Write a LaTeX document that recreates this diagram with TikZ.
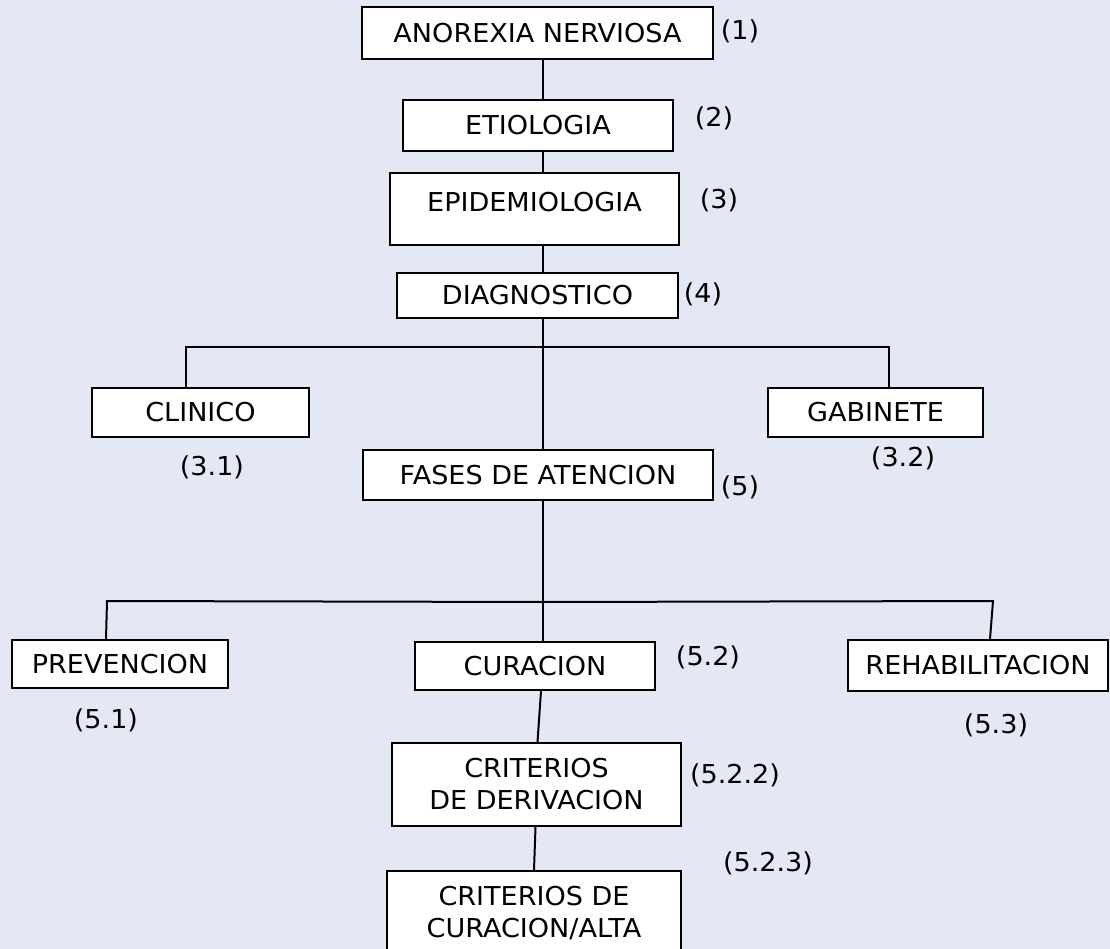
\documentclass[tikz,border=0pt]{standalone}
\usepackage{fontspec}
\setmainfont{DejaVu Sans}[FakeStretch=1.04]
\usetikzlibrary{calc}
\definecolor{bgpanel}{RGB}{227,232,244}
\tikzset{
  box/.style={draw=black, fill=white, line width=2pt, inner sep=0pt, align=center,
              font=\fontsize{26}{32}\selectfont},
  num/.style={inner sep=0pt, font=\fontsize{26}{30}\selectfont},
  link/.style={draw=black, line width=2pt}
}
\begin{document}
\begin{tikzpicture}[x=1pt,y=-1pt]
\useasboundingbox (0,0) rectangle (1110,949);
\fill[bgpanel] (0,0) rectangle (1110,949);
\clip (0,0) rectangle (1110,949);

% main column
\node[box, minimum width=351pt, minimum height=52pt] (an)  at (537.5,33)  {ANOREXIA NERVIOSA};
\node[box, minimum width=270pt, minimum height=51pt] (eti) at (538,125.5) {ETIOLOGIA};
\node[box, minimum width=289pt, minimum height=72pt, text depth=14pt] (epi) at (534.5,209) {EPIDEMIOLOGIA};
\node[box, minimum width=281pt, minimum height=45pt] (dia) at (537.5,295.5) {DIAGNOSTICO};
\node[box, minimum width=217pt, minimum height=49pt] (cli) at (200.5,412.5) {CLINICO};
\node[box, minimum width=215pt, minimum height=49pt] (gab) at (875.5,412.5) {GABINETE};
\node[box, minimum width=350pt, minimum height=50pt] (fas) at (538,475) {FASES DE ATENCION};
\node[box, minimum width=216pt, minimum height=48pt] (pre) at (120,664) {PREVENCION};
\node[box, minimum width=240pt, minimum height=48pt] (cur) at (535,666) {CURACION};
\node[box, minimum width=260pt, minimum height=51pt] (reh) at (978,665.5) {REHABILITACION};
\node[box, minimum width=289pt, minimum height=83pt] (crd) at (536.5,784.5) {CRITERIOS\\DE DERIVACION};
\node[box, minimum width=294pt, minimum height=84pt, anchor=north] (cra) at (534,870) {CRITERIOS DE\\CURACION/ALTA};

% numbering
\node[num] (n1)   at (740,31)  {(1)};
\node[num] (n2)   at (714,118) {(2)};
\node[num] (n3)   at (719,200) {(3)};
\node[num] (n4)   at (703,294) {(4)};
\node[num] (n31)  at (212,467) {(3.1)};
\node[num] (n32)  at (903,458) {(3.2)};
\node[num] (n5)   at (740,487) {(5)};
\node[num] (n51)  at (106,720) {(5.1)};
\node[num] (n52)  at (708,657) {(5.2)};
\node[num] (n53)  at (996,725) {(5.3)};
\node[num] (n522) at (735,775) {(5.2.2)};
\node[num] (n523) at (768,863) {(5.2.3)};

% junctions on the trunk
\coordinate (j1) at (542.5,347);
\coordinate (j2) at (542.5,602);

% connectors
\draw[link] (an.south -| j1) -- (eti.north -| j1);
\draw[link] (eti.south -| j1) -- (epi.north -| j1);
\draw[link] (epi.south -| j1) -- (dia.north -| j1);
\draw[link] (dia.south -| j1) -- (fas.north -| j1);
\draw[link] ([xshift=-14.5pt]cli.north) |- (j1) -| ([xshift=13.5pt]gab.north);
\draw[link] (fas.south -| j2) -- (cur.north -| j2);
\draw[link] ([xshift=-14pt]pre.north) -- ++(1,-38) coordinate (pb) -- (j2);
\draw[link] (j2) -- ($(reh.north)+(15,-38)$) -- ([xshift=12pt]reh.north);
\draw[link] ([xshift=6pt]cur.south) -- ([xshift=1pt]crd.north);
\draw[link] ([xshift=-1pt]crd.south) -- ([xshift=0pt]cra.north);
\end{tikzpicture}
\end{document}
